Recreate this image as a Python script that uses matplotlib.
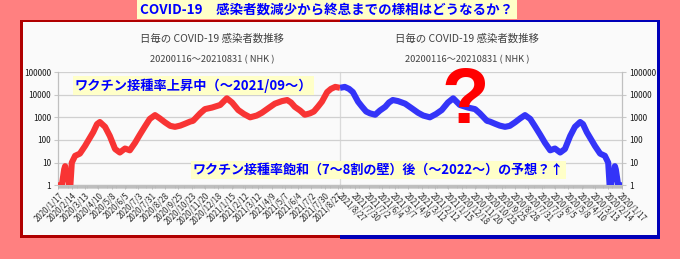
import matplotlib
matplotlib.use("Agg")
import matplotlib.pyplot as plt
import matplotlib.dates as mdates
from matplotlib.patches import Rectangle
import datetime as dt

plt.rcParams['font.family'] = ['Noto Sans CJK JP', 'DejaVu Sans']

# ---- data (7-day-ish smoothed daily cases) ----
dates = ["2020-01-16", "2020-01-24", "2020-01-29", "2020-01-31", "2020-02-02",
         "2020-02-05", "2020-02-08", "2020-02-11", "2020-02-14", "2020-02-21",
         "2020-03-02", "2020-03-13", "2020-03-19", "2020-03-30", "2020-04-07",
         "2020-04-13", "2020-04-24", "2020-05-04", "2020-05-15", "2020-05-25",
         "2020-06-05", "2020-06-15", "2020-06-26", "2020-07-06", "2020-07-17",
         "2020-07-27", "2020-08-07", "2020-08-17", "2020-08-28", "2020-09-08",
         "2020-09-18", "2020-09-29", "2020-10-09", "2020-10-20", "2020-10-26",
         "2020-11-10", "2020-11-20", "2020-12-05", "2020-12-22", "2021-01-05",
         "2021-01-16", "2021-01-29", "2021-02-10", "2021-02-23", "2021-03-09",
         "2021-03-20", "2021-04-02", "2021-04-16", "2021-05-01", "2021-05-12",
         "2021-05-20", "2021-05-28", "2021-06-08", "2021-06-18", "2021-06-29",
         "2021-07-07", "2021-07-16", "2021-07-24", "2021-08-04", "2021-08-12",
         "2021-08-21", "2021-08-31"]
cases = [1, 1, 5, 7, 2,
         4, 1, 1, 10, 20,
         25, 55, 90, 220, 500,
         620, 380, 150, 40, 28,
         42, 35, 75, 170, 400,
         850, 1250, 900, 600, 420,
         380, 430, 520, 650, 700,
         1500, 2300, 2700, 3500, 6900,
         4500, 2100, 1400, 1000, 1200,
         1600, 2500, 4000, 5200, 5800,
         4500, 2900, 2000, 1300, 1500,
         1800, 3000, 4900, 13000, 18000,
         22000, 20000]

tick_dates = ["2020-01-17", "2020-02-14", "2020-03-13", "2020-04-10", "2020-05-08",
              "2020-06-05", "2020-07-03", "2020-07-31", "2020-08-28", "2020-09-25",
              "2020-10-23", "2020-11-20", "2020-12-18", "2021-01-15", "2021-02-12",
              "2021-03-12", "2021-04-09", "2021-05-07", "2021-06-04", "2021-07-02",
              "2021-07-30", "2021-08-27"]
tick_labels = ["2020/1/17", "2020/2/14", "2020/3/13", "2020/4/10", "2020/5/8",
               "2020/6/5", "2020/7/3", "2020/7/31", "2020/8/28", "2020/9/25",
               "2020/10/23", "2020/11/20", "2020/12/18", "2021/1/15", "2021/2/12",
               "2021/3/12", "2021/4/9", "2021/5/7", "2021/6/4", "2021/7/2",
               "2021/7/30", "2021/8/27"]
y_ticks = [1, 10, 100, 1000, 10000, 100000]
y_labels = ["1", "10", "100", "1000", "10000", "100000"]

title_main = "COVID-19\u3000感染者数減少から終息までの様相はどうなるか？"
chart_title = "日毎の COVID-19 感染者数推移"
chart_sub = "20200116～20210831 ( NHK )"
note_up = "ワクチン接種率上昇中（～2021/09～）"
note_down = "ワクチン接種率飽和（7～8割の壁）後（～2022～）の予想？↑"

# ---- figure ----
W, H = 680, 259
fig = plt.figure(figsize=(W / 100, H / 100), dpi=100, facecolor="#FF8080")


def fx(x):
    return x / W


def fy(y):
    return 1 - y / H


def rect(x0, y0, x1, y1, color, z=1):
    fig.add_artist(Rectangle((fx(x0), fy(y1)), (x1 - x0) / W, (y1 - y0) / H,
                             transform=fig.transFigure, facecolor=color,
                             edgecolor="none", zorder=z))


# white panel and frames
rect(20, 20, 660, 238, "#FAFAFA", 0)
rect(20, 20, 23, 238, "#B00000", 5)
rect(20, 20, 340, 22, "#B00000", 5)
rect(20, 235, 340, 238, "#B00000", 5)
rect(657, 20, 660, 238, "#0000B8", 5)
rect(340, 20, 660, 21.5, "#0000B8", 5)
rect(340, 234.5, 660, 238.5, "#0000B8", 5)

d = [dt.datetime.strptime(s, "%Y-%m-%d") for s in dates]
td = [dt.datetime.strptime(s, "%Y-%m-%d") for s in tick_dates]
xmin = dt.datetime(2020, 1, 16)
xmax = dt.datetime(2021, 8, 31)

ax_top, ax_bot = 72, 185.3


def style_axes(ax, side):
    ax.set_facecolor("none")
    ax.set_yscale("log")
    ax.set_ylim(1, 100000)
    ax.set_yticks(y_ticks)
    ax.set_yticklabels(y_labels)
    ax.yaxis.set_minor_locator(plt.NullLocator())
    ax.grid(axis="y", color="#D0D0D0", lw=0.9)
    ax.set_axisbelow(True)
    ax.set_xticks(td)
    ax.xaxis.set_minor_locator(mdates.DayLocator())
    ax.tick_params(axis="x", which="minor", length=2.5, width=0.5, color="#B8B8B8")
    ax.tick_params(axis="x", which="major", length=3, width=0.6, color="#B0B0B0",
                   labelsize=5.7, labelcolor="#2A2A2A", pad=1)
    ax.tick_params(axis="y", length=3, width=0.8, color="#C8C8C8",
                   labelsize=6, labelcolor="#1A1A1A", pad=2)
    for s in ax.spines.values():
        s.set_color("#C0C0C0")
        s.set_linewidth(0.9)
    ax.spines["top"].set_visible(False)
    if side == "left":
        ax.spines["right"].set_color("#DADADA")
    else:
        ax.spines["left"].set_visible(False)
        ax.yaxis.tick_right()


# left (red) chart
axL = fig.add_axes([fx(58), fy(ax_bot), (340 - 58) / W, (ax_bot - ax_top) / H])
axL.plot(d, cases, color="#F83434", lw=4.4, solid_joinstyle="round",
         solid_capstyle="butt", zorder=3)
axL.set_xlim(xmin, xmax)
style_axes(axL, "left")
axL.set_xticklabels(tick_labels, rotation=45, ha="right", va="top",
                    rotation_mode="anchor")

# right (blue, mirrored) chart
axR = fig.add_axes([fx(340), fy(ax_bot), (622 - 340) / W, (ax_bot - ax_top) / H])
axR.plot(d, cases, color="#3434F8", lw=4.4, solid_joinstyle="round",
         solid_capstyle="butt", zorder=3)
axR.set_xlim(xmax, xmin)
style_axes(axR, "right")
axR.set_xticklabels(tick_labels, rotation=-45, ha="left", va="top",
                    rotation_mode="anchor")

# chart titles
for cx in (212, 467):
    fig.text(fx(cx), fy(39), chart_title, ha="center", va="center",
             fontsize=7.5, color="#404040", zorder=6)
    fig.text(fx(cx), fy(60), chart_sub, ha="center", va="center",
             fontsize=6.7, color="#404040", zorder=6)

# main title box
fig.text(fx(327), fy(9.5), title_main, ha="center", va="center", fontsize=9.7,
         fontweight="bold", color="#0000FF", zorder=7,
         bbox=dict(boxstyle="square,pad=0.22", facecolor="#FFFFC8", edgecolor="none"))

# notes
fig.text(fx(75), fy(85.5), note_up, ha="left", va="center", fontsize=9.5,
         fontweight="bold", color="#0000FF", zorder=7,
         bbox=dict(boxstyle="square,pad=0.15", facecolor="#FFFFC8", edgecolor="none"))
fig.text(fx(193), fy(170), note_down, ha="left", va="center", fontsize=9.4,
         fontweight="bold", color="#0000FF", zorder=7,
         bbox=dict(boxstyle="square,pad=0.15", facecolor="#FFFFC8", edgecolor="none"))

# big question mark
fig.text(fx(465), fy(123), "?", ha="center", va="baseline", fontsize=56,
         fontweight="bold", color="#FF0000", family="Liberation Sans", zorder=7)

fig.savefig("out.png", dpi=100, facecolor=fig.get_facecolor())
